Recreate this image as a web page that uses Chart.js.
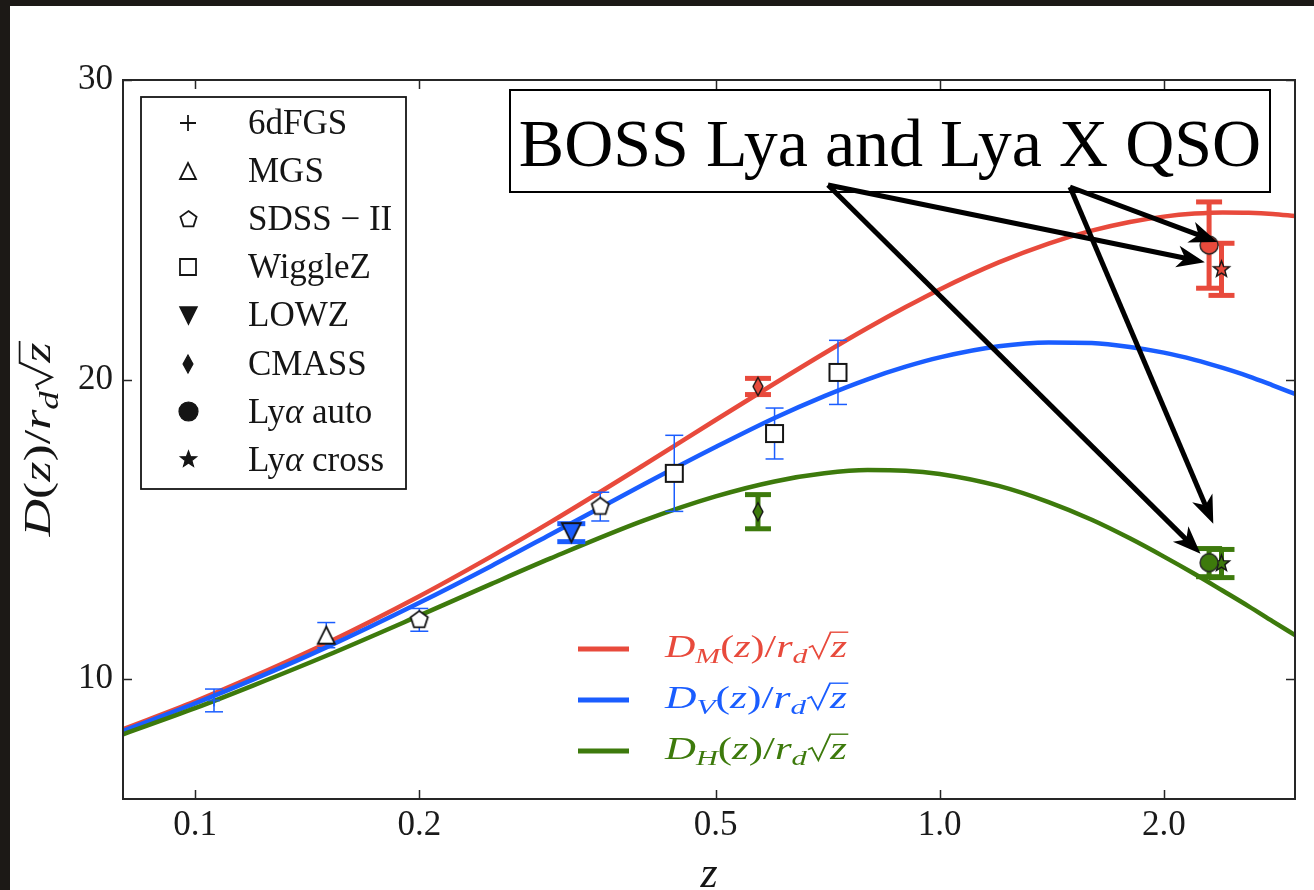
<!DOCTYPE html>
<html>
<head>
<meta charset="utf-8">
<title>D(z)/r_d sqrt(z)</title>
<script src="https://cdn.jsdelivr.net/npm/chart.js@4.4.1/dist/chart.umd.min.js"></script>
<style>
  html, body { margin: 0; padding: 0; background: #fff; }
  canvas { display: block; }
</style>
</head>
<body>
<canvas id="chart" width="1314" height="890"></canvas>
<script>
// BAO distances D(z)/(r_d sqrt z)

var xTicks = [0.1, 0.2, 0.5, 1.0, 2.0];
var xTickLabels = ['0.1', '0.2', '0.5', '1.0', '2.0'];
var yTicks = [10, 20, 30];
var yTickLabels = ['10', '20', '30'];

// model curves
var curveZ  = [0.08, 0.1, 0.12, 0.15, 0.2, 0.25, 0.3, 0.4, 0.5, 0.6, 0.7, 0.8, 0.9, 1.0, 1.2, 1.4, 1.6, 1.8, 2.0, 2.2, 2.4, 2.6, 2.8, 3.0];
var dmCurve = [8.33, 9.26, 10.10, 11.20, 12.77, 14.10, 15.24, 17.14, 18.65, 19.87, 20.88, 21.72, 22.42, 23.01, 23.91, 24.54, 24.97, 25.26, 25.44, 25.54, 25.58, 25.57, 25.53, 25.46];
var dvCurve = [8.27, 9.19, 10.00, 11.06, 12.55, 13.78, 14.83, 16.50, 17.75, 18.72, 19.45, 20.01, 20.43, 20.74, 21.11, 21.24, 21.22, 21.09, 20.90, 20.66, 20.39, 20.11, 19.81, 19.52];
var dhCurve = [8.16, 9.03, 9.80, 10.78, 12.12, 13.18, 14.03, 15.29, 16.10, 16.60, 16.87, 16.98, 16.96, 16.85, 16.45, 15.91, 15.32, 14.70, 14.09, 13.51, 12.95, 12.43, 11.93, 11.47];
var curveSubs = ['M', 'V', 'H'];

// measurements
var sixdfZ = [0.106], sixdfDV = [9.29], sixdfErr = [0.38];
var mgsZ = [0.15], mgsDV = [11.47], mgsErr = [0.42];
var sdssZ = [0.2, 0.35], sdssDV = [11.98, 15.76], sdssErr = [0.38, 0.48];
var wiggleZ = [0.44, 0.6, 0.73], wiggleDV = [16.87, 18.20, 20.24], wiggleErr = [1.27, 0.85, 1.07];
var lowzZ = [0.32], lowzDV = [14.89], lowzErr = [0.30];
var cmassZ = [0.57], cmassDM = [19.77], cmassDMErr = [0.27], cmassDH = [15.59], cmassDHErr = [0.57];
var lyaAutoZ = [2.30], lyaAutoDM = [24.49], lyaAutoDMErr = [1.44], lyaAutoDH = [13.89], lyaAutoDHErr = [0.47];
var lyaCrossZ = [2.39], lyaCrossDM = [23.68], lyaCrossDMErr = [0.87], lyaCrossDH = [13.86], lyaCrossDHErr = [0.47];

var surveyNames = ['6dFGS', 'MGS', 'SDSS \u2212 II', 'WiggleZ', 'LOWZ', 'CMASS', 'Ly\u03b1 auto', 'Ly\u03b1 cross'];
var noteText = 'BOSS Lya and Lya X QSO';
// arrow tips of the note, in data coordinates (z, value)
var noteTipZ = [2.27, 2.36, 2.24, 2.33];
var noteTipV = [23.92, 24.59, 14.19, 15.19];
var noteFrom = [0, 1, 0, 1];

var SERIF = '"Liberation Serif", "DejaVu Serif", serif';
var RED = '#e84a3c', BLUE = '#1a5dff', GREEN = '#3d7a0c', INK = '#151515';

// marker glyphs drawn once onto small canvases
function marker(shape, size, fill, stroke, lw) {
  var pad = Math.ceil(lw) + 2;
  var n = Math.ceil(size) + 2 * pad;
  var c = document.createElement('canvas');
  c.width = n; c.height = n;
  var g = c.getContext('2d');
  var m = n / 2, r = size / 2, k, a, rr;
  g.beginPath();
  if (shape === 'plus') {
    g.moveTo(m - r, m); g.lineTo(m + r, m); g.moveTo(m, m - r); g.lineTo(m, m + r);
  } else if (shape === 'triUp') {
    g.moveTo(m, m - r); g.lineTo(m + r, m + r); g.lineTo(m - r, m + r); g.closePath();
  } else if (shape === 'triDown') {
    g.moveTo(m, m + r); g.lineTo(m + r, m - r); g.lineTo(m - r, m - r); g.closePath();
  } else if (shape === 'square') {
    g.rect(m - r, m - r, size, size);
  } else if (shape === 'pentagon') {
    for (k = 0; k < 5; k++) {
      a = -Math.PI / 2 + k * 2 * Math.PI / 5;
      if (k === 0) g.moveTo(m + r * Math.cos(a), m + r * Math.sin(a)); else g.lineTo(m + r * Math.cos(a), m + r * Math.sin(a));
    }
    g.closePath();
  } else if (shape === 'diamond') {
    g.moveTo(m, m - r); g.lineTo(m + r * 0.55, m); g.lineTo(m, m + r); g.lineTo(m - r * 0.55, m); g.closePath();
  } else if (shape === 'circle') {
    g.arc(m, m, r, 0, 2 * Math.PI);
  } else if (shape === 'star') {
    for (k = 0; k < 10; k++) {
      rr = k % 2 ? r * 0.42 : r;
      a = -Math.PI / 2 + k * Math.PI / 5;
      if (k === 0) g.moveTo(m + rr * Math.cos(a), m + rr * Math.sin(a)); else g.lineTo(m + rr * Math.cos(a), m + rr * Math.sin(a));
    }
    g.closePath();
  }
  if (fill) { g.fillStyle = fill; g.fill(); }
  g.strokeStyle = stroke; g.lineWidth = lw; g.stroke();
  return c;
}

var legendMarkers = [
  marker('plus', 16, null, INK, 1.8),
  marker('triUp', 16, '#fff', INK, 1.8),
  marker('pentagon', 17, '#fff', INK, 1.8),
  marker('square', 16, '#fff', INK, 1.8),
  marker('triDown', 17, INK, INK, 1.5),
  marker('diamond', 18, INK, INK, 1.2),
  marker('circle', 19, INK, INK, 1.2),
  marker('star', 17, INK, INK, 1.2)
];

// text made of roman / italic / subscript / radical runs
function runFont(kind, size) {
  var s = kind === 'sub' ? Math.round(size * 0.7) : size;
  var it = (kind === 'i' || kind === 'sub' || kind === 'over') ? 'italic ' : '';
  return it + s + 'px ' + SERIF;
}
function runWidth(ctx, run, size) {
  if (run[1] === 'sqrt') return size * 0.55;
  ctx.font = runFont(run[1], size);
  return ctx.measureText(run[0]).width;
}
function drawRuns(ctx, runs, x, y, size, color, align, fitWidth) {
  var w = 0;
  runs.forEach(function (r) { w += runWidth(ctx, r, size); });
  var sx = fitWidth ? fitWidth / w : 1;
  ctx.save();
  ctx.translate(align === 'center' ? x - w * sx / 2 : x, y);
  ctx.scale(sx, 1);
  ctx.fillStyle = color; ctx.strokeStyle = color;
  ctx.textAlign = 'left'; ctx.textBaseline = 'alphabetic';
  var cx = 0;
  runs.forEach(function (r) {
    var tw = runWidth(ctx, r, size);
    if (r[1] === 'sqrt') {
      ctx.lineWidth = size * 0.045; ctx.lineJoin = 'miter';
      ctx.beginPath();
      ctx.moveTo(cx + 0.03 * size, -0.30 * size);
      ctx.lineTo(cx + 0.12 * size, -0.36 * size);
      ctx.lineTo(cx + 0.27 * size, 0.04 * size);
      ctx.lineTo(cx + 0.55 * size, -0.80 * size);
      ctx.stroke();
    } else {
      ctx.font = runFont(r[1], size);
      ctx.fillText(r[0], cx, r[1] === 'sub' ? size * 0.2 : 0);
      if (r[1] === 'over') {
        ctx.lineWidth = size * 0.045;
        ctx.beginPath();
        ctx.moveTo(cx - 0.02 * size, -0.80 * size);
        ctx.lineTo(cx + tw + 0.03 * size, -0.80 * size);
        ctx.stroke();
      }
    }
    cx += tw;
  });
  ctx.restore();
}
function nameRuns(name) {
  var parts = name.split('\u03b1');
  if (parts.length === 1) return [[name, 'r']];
  return [[parts[0], 'r'], ['\u03b1', 'i'], [parts[1], 'r']];
}
function curveRuns(sub) {
  return [['D', 'i'], [sub, 'sub'], ['(', 'r'], ['z', 'i'], [')/', 'r'], ['r', 'i'], ['d', 'sub'], ['', 'sqrt'], ['z', 'over']];
}
var yTitleRuns = [['D', 'i'], ['(', 'r'], ['z', 'i'], [')/', 'r'], ['r', 'i'], ['d', 'sub'], ['', 'sqrt'], ['z', 'over']];

function arrow(ctx, x0, y0, x1, y1) {
  var ang = Math.atan2(y1 - y0, x1 - x0), c = Math.cos(ang), s = Math.sin(ang), L = 28, W = 11;
  ctx.beginPath();
  ctx.moveTo(x0, y0);
  ctx.lineTo(x1 - c * L * 0.7, y1 - s * L * 0.7);
  ctx.stroke();
  ctx.beginPath();
  ctx.moveTo(x1, y1);
  ctx.lineTo(x1 - c * L - s * W, y1 - s * L + c * W);
  ctx.lineTo(x1 - c * L * 0.72, y1 - s * L * 0.72);
  ctx.lineTo(x1 - c * L + s * W, y1 - s * L - c * W);
  ctx.closePath();
  ctx.fill();
}

// datasets
function curveSet(values, color, order) {
  return {
    data: curveZ.map(function (z, i) { return { x: z, y: values[i] }; }),
    showLine: true, borderColor: color, borderWidth: 4.5, pointRadius: 0,
    cubicInterpolationMode: 'monotone', fill: false, order: order
  };
}
function errSet(z, v, e, color, lw, cap) {
  return {
    data: [{ x: z, y: v - e }, { x: z, y: v + e }],
    showLine: true, borderColor: color, borderWidth: lw,
    pointStyle: 'line', pointRadius: cap, pointBorderWidth: lw,
    pointBorderColor: color, pointBackgroundColor: color, order: 10
  };
}
function pointSet(zs, vs, img) {
  return {
    data: zs.map(function (z, i) { return { x: z, y: vs[i] }; }),
    pointStyle: img, pointRadius: 8, showLine: false, order: 5
  };
}
var datasets = [curveSet(dmCurve, RED, 30), curveSet(dvCurve, BLUE, 29), curveSet(dhCurve, GREEN, 28)];
function addPoints(zs, vs, errs, color, lw, cap, img) {
  zs.forEach(function (z, i) { datasets.push(errSet(z, vs[i], errs[i], color, lw, cap)); });
  datasets.push(pointSet(zs, vs, img));
}
addPoints(sixdfZ, sixdfDV, sixdfErr, BLUE, 1.5, 9, marker('plus', 12, null, BLUE, 1.5));
addPoints(mgsZ, mgsDV, mgsErr, BLUE, 1.5, 9, marker('triUp', 17, '#fff', INK, 1.8));
addPoints(sdssZ, sdssDV, sdssErr, BLUE, 1.5, 9, marker('pentagon', 18, '#fff', INK, 1.8));
addPoints(wiggleZ, wiggleDV, wiggleErr, BLUE, 1.5, 9, marker('square', 17, '#fff', INK, 2));
addPoints(lowzZ, lowzDV, lowzErr, BLUE, 5, 14, marker('triDown', 19, BLUE, INK, 1.8));
addPoints(cmassZ, cmassDM, cmassDMErr, RED, 5, 13, marker('diamond', 18, RED, INK, 1.4));
addPoints(cmassZ, cmassDH, cmassDHErr, GREEN, 5, 13, marker('diamond', 18, GREEN, INK, 1.4));
addPoints(lyaAutoZ, lyaAutoDM, lyaAutoDMErr, RED, 5, 13, marker('circle', 18, RED, '#222', 1.4));
addPoints(lyaAutoZ, lyaAutoDH, lyaAutoDHErr, GREEN, 5, 13, marker('circle', 18, GREEN, '#222', 1.4));
addPoints(lyaCrossZ, lyaCrossDM, lyaCrossDMErr, RED, 5, 13, marker('star', 17, RED, INK, 1.4));
addPoints(lyaCrossZ, lyaCrossDH, lyaCrossDHErr, GREEN, 5, 13, marker('star', 17, GREEN, INK, 1.4));

var decor = {
  id: 'decor',
  beforeDraw: function (chart) {
    var ctx = chart.ctx;
    ctx.save();
    ctx.fillStyle = '#fff';
    ctx.fillRect(0, 0, chart.width, chart.height);
    ctx.fillStyle = '#1c1916';
    ctx.fillRect(0, 0, chart.width, 6);
    ctx.fillRect(0, 0, 10, chart.height);
    ctx.restore();
  },
  afterDraw: function (chart) {
    var ctx = chart.ctx, a = chart.chartArea, xs = chart.scales.x, ys = chart.scales.y;
    ctx.save();
    // frame and inward ticks
    ctx.strokeStyle = '#262626';
    ctx.lineWidth = 2;
    ctx.strokeRect(a.left, a.top, a.right - a.left, a.bottom - a.top);
    ctx.lineWidth = 1.5;
    ctx.beginPath();
    xTicks.forEach(function (v) {
      var px = Math.round(xs.getPixelForValue(v)) + 0.5;
      ctx.moveTo(px, a.bottom); ctx.lineTo(px, a.bottom - 9);
      ctx.moveTo(px, a.top); ctx.lineTo(px, a.top + 9);
    });
    yTicks.forEach(function (v) {
      var py = Math.round(ys.getPixelForValue(v)) + 0.5;
      ctx.moveTo(a.left, py); ctx.lineTo(a.left + 9, py);
      ctx.moveTo(a.right, py); ctx.lineTo(a.right - 9, py);
    });
    ctx.stroke();

    // axis titles
    drawRuns(ctx, [['z', 'i']], (a.left + a.right) / 2, 887, 44, INK, 'center');
    ctx.save();
    ctx.translate(37, (a.top + a.bottom) / 2);
    ctx.rotate(-Math.PI / 2);
    drawRuns(ctx, yTitleRuns, 0, 13, 38, INK, 'center', 194);
    ctx.restore();

    // survey legend
    ctx.strokeStyle = INK; ctx.lineWidth = 1.8;
    ctx.strokeRect(a.left + 18, a.top + 17, 265, 392);
    surveyNames.forEach(function (name, i) {
      var cy = a.top + 43 + i * 48.1;
      var img = legendMarkers[i];
      ctx.drawImage(img, Math.round(a.left + 65 - img.width / 2), Math.round(cy - img.height / 2));
      drawRuns(ctx, nameRuns(name), a.left + 125, cy + 11, 35, INK, 'left');
    });

    // curve legend
    [RED, BLUE, GREEN].forEach(function (col, i) {
      var cy = a.top + 569 + i * 51;
      ctx.strokeStyle = col; ctx.lineWidth = 5;
      ctx.beginPath(); ctx.moveTo(a.left + 455, cy); ctx.lineTo(a.left + 506, cy); ctx.stroke();
      drawRuns(ctx, curveRuns(curveSubs[i]), a.left + 542, cy + 8, 31, col, 'left', 182);
    });

    // note box with arrows
    var bx = a.left + 387, by = a.top + 10, bw = 760, bh = 102;
    ctx.fillStyle = '#fff'; ctx.fillRect(bx, by, bw, bh);
    ctx.strokeStyle = '#000'; ctx.lineWidth = 2; ctx.strokeRect(bx, by, bw, bh);
    ctx.fillStyle = '#000'; ctx.font = '68px ' + SERIF;
    ctx.textAlign = 'center'; ctx.textBaseline = 'alphabetic';
    ctx.fillText(noteText, bx + bw / 2, a.top + 86);
    var tails = [[a.left + 705, a.top + 105], [a.left + 947, a.top + 107]];
    ctx.strokeStyle = '#000'; ctx.lineWidth = 5;
    noteTipZ.forEach(function (z, i) {
      var t = tails[noteFrom[i]];
      arrow(ctx, t[0], t[1], xs.getPixelForValue(z), ys.getPixelForValue(noteTipV[i]));
    });
    ctx.restore();
  }
};

var tickFont = { family: SERIF, size: 35 };
new Chart(document.getElementById('chart').getContext('2d'), {
  type: 'scatter',
  data: { datasets: datasets },
  options: {
    responsive: false,
    animation: false,
    devicePixelRatio: 1,
    events: [],
    layout: { padding: { top: 80, right: 18, left: 0, bottom: 0 } },
    plugins: { legend: { display: false }, tooltip: { enabled: false } },
    scales: {
      x: {
        type: 'logarithmic', min: 0.08, max: 3.0,
        afterBuildTicks: function (s) { s.ticks = xTicks.map(function (v) { return { value: v }; }); },
        afterFit: function (s) { s.height = 91; },
        grid: { display: false, drawTicks: false },
        border: { display: false },
        ticks: {
          autoSkip: false, maxRotation: 0, padding: 6, color: '#1a1a1a', font: tickFont,
          callback: function (v) { var i = xTicks.indexOf(v); return i < 0 ? '' : xTickLabels[i]; }
        }
      },
      y: {
        min: 6, max: 30,
        afterBuildTicks: function (s) { s.ticks = yTicks.map(function (v) { return { value: v }; }); },
        afterFit: function (s) { s.width = 123; },
        grid: { display: false, drawTicks: false },
        border: { display: false },
        ticks: {
          padding: 10, color: '#1a1a1a', font: tickFont,
          callback: function (v) { var i = yTicks.indexOf(v); return i < 0 ? '' : yTickLabels[i]; }
        }
      }
    }
  },
  plugins: [decor]
});
</script>
</body>
</html>
